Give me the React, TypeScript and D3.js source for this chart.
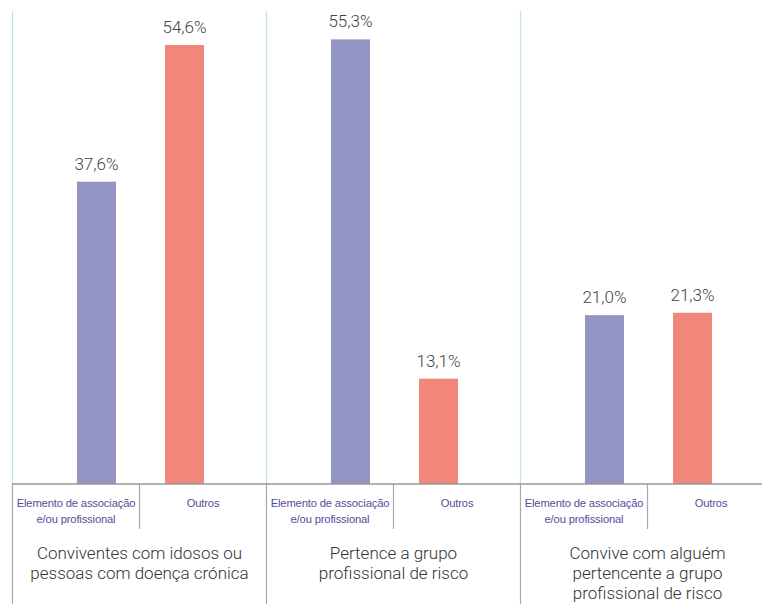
import React from "react";
import * as d3 from "d3";

const groups = [
  ["Conviventes com idosos ou", "pessoas com doença crónica"],
  ["Pertence a grupo", "profissional de risco"],
  ["Convive com alguém", "pertencente a grupo", "profissional de risco"],
];
const seriesNames = ["Elemento de associação|e/ou profissional", "Outros"];
const elementoValues = [37.6, 55.3, 21.0];
const outrosValues = [54.6, 13.1, 21.3];
const seriesColors = ["#9494c4", "#f0877a"];

const W = 762;
const H = 604;
const axisY = 484;
const plotTop = 11;

export default function App() {
  const groupIdx = groups.map((_, i) => String(i));
  const x0 = d3.scaleBand<string>().domain(groupIdx).range([12.5, 12.5 + 254 * 3]);
  const x1 = d3
    .scaleBand<string>()
    .domain(["0", "1"])
    .range([40, 216])
    .paddingInner(0.557)
    .paddingOuter(0.278);
  const sub = d3.scaleBand<string>().domain(["0", "1"]).range([0, 254]);
  const y = d3.scaleLinear().domain([0, 60]).range([axisY, 1.6]);
  const values = [elementoValues, outrosValues];
  const fmt = (v: number) => v.toFixed(1).replace(".", ",") + "%";

  return (
    <svg width={W} height={H} style={{ position: "absolute", left: 0, top: 0 }}>
      <rect width={W} height={H} fill="#fff" />
      {groupIdx.map((g, gi) => {
        const gx = x0(g)!;
        return (
          <g key={g}>
            <line x1={gx} x2={gx} y1={plotTop} y2={axisY} stroke="#c3e2ec" strokeWidth={1.2} />
            <line x1={gx} x2={gx} y1={axisY} y2={H} stroke="#a8a8a8" strokeWidth={1.2} />
            <line
              x1={gx + sub("1")!}
              x2={gx + sub("1")!}
              y1={axisY}
              y2={529}
              stroke="#a8a8a8"
              strokeWidth={1.2}
            />
            {values.map((vals, si) => {
              const v = vals[gi];
              const bx = gx + x1(String(si))!;
              const bw = x1.bandwidth();
              return (
                <g key={si}>
                  <rect x={bx} y={y(v)} width={bw} height={axisY - y(v)} fill={seriesColors[si]} />
                  <text
                    x={bx + bw / 2}
                    y={y(v) - 12}
                    textAnchor="middle"
                    fontFamily="Roboto, 'Liberation Sans', sans-serif"
                    fontWeight={300}
                    fontSize={17}
                    fill="#444"
                  >
                    {fmt(v)}
                  </text>
                </g>
              );
            })}
            {seriesNames.map((name, si) => {
              const cx = gx + sub(String(si))! + sub.bandwidth() / 2;
              return (
                <text
                  key={si}
                  textAnchor="middle"
                  fontFamily="'Liberation Sans Narrow', 'Liberation Sans', sans-serif"
                  fontSize={11.2}
                  fill="#524e9a"
                  style={{ letterSpacing: "-0.15px" }}
                >
                  {name.split("|").map((ln, li) => (
                    <tspan key={li} x={cx} y={506.7 + li * 16.6}>
                      {ln}
                    </tspan>
                  ))}
                </text>
              );
            })}
            <text
              textAnchor="middle"
              fontFamily="Roboto, 'Liberation Sans', sans-serif"
              fontWeight={300}
              fontSize={17}
              fill="#333"
            >
              {groups[gi].map((ln, li) => (
                <tspan key={li} x={gx + 127} y={559 + li * 20.2}>
                  {ln}
                </tspan>
              ))}
            </text>
          </g>
        );
      })}
      <line x1={12} x2={W} y1={axisY} y2={axisY} stroke="#999" strokeWidth={1.6} />
    </svg>
  );
}
